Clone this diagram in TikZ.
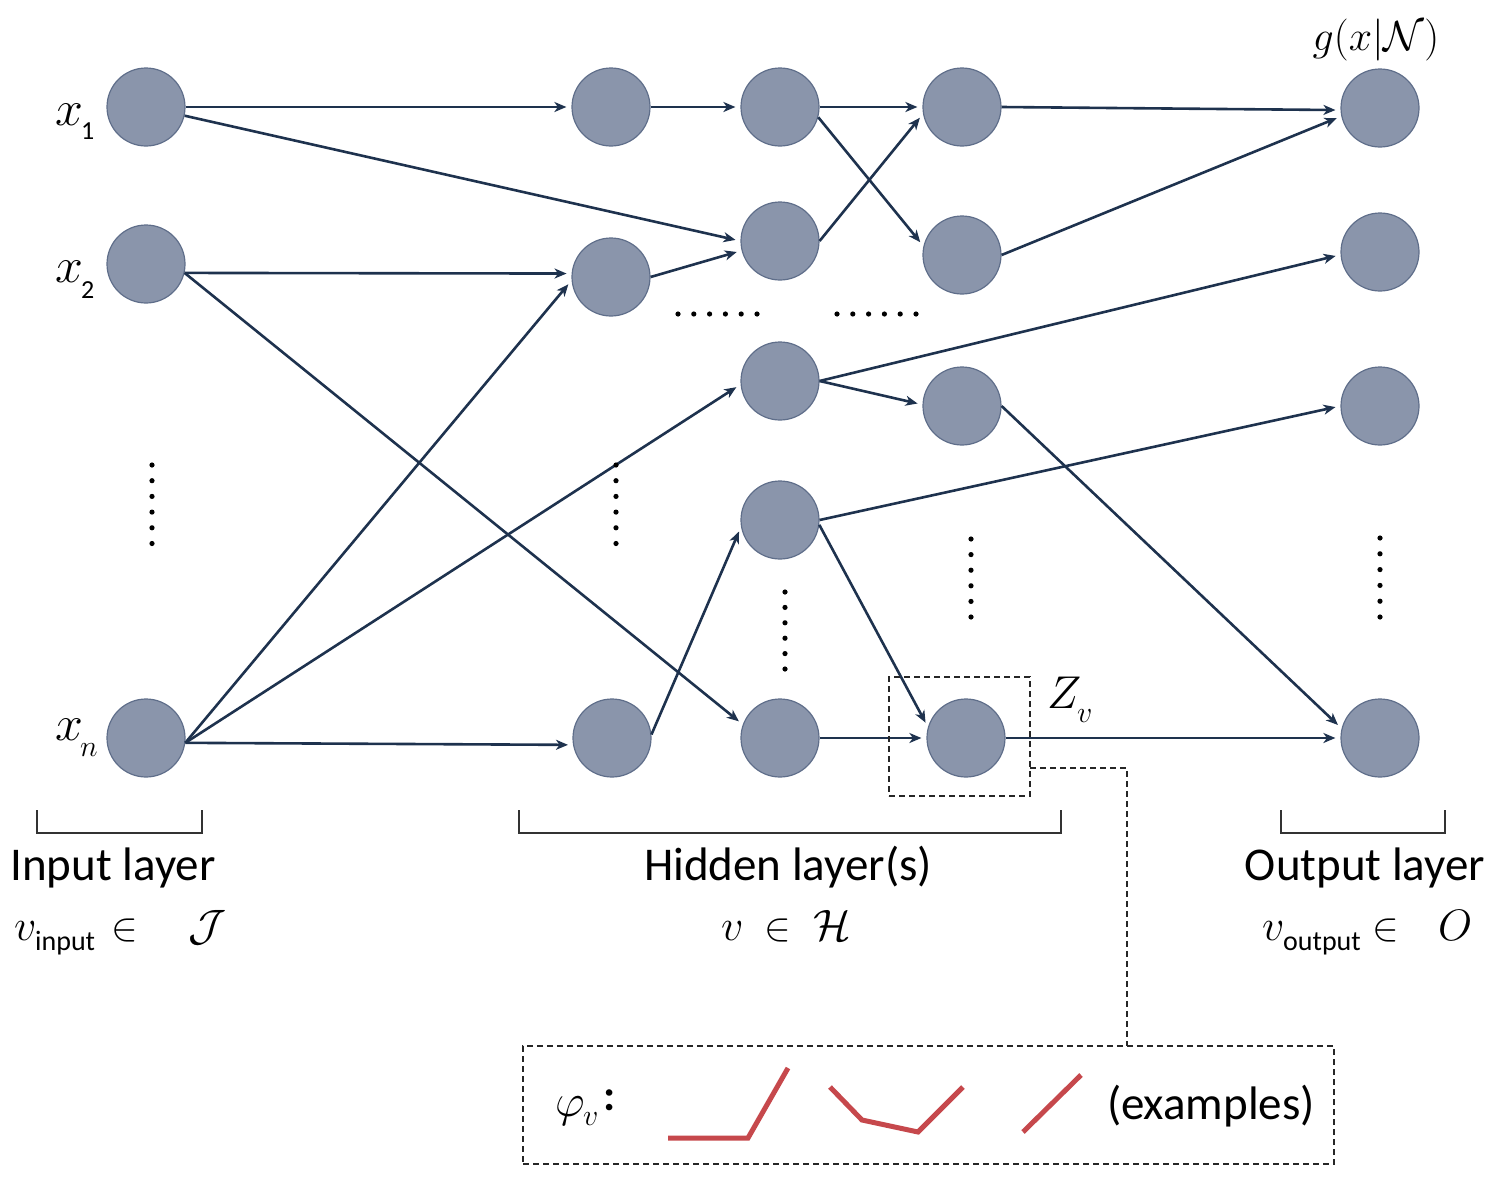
\RequirePackage{fix-cm}
\documentclass[tikz,border=0pt]{standalone}
\usepackage{amsmath}
\usepackage{fontspec}
\setmainfont{Carlito}
\usetikzlibrary{arrows.meta}
\definecolor{nfill}{RGB}{138,149,171}
\definecolor{nborder}{RGB}{95,110,138}
\definecolor{edgec}{RGB}{30,50,78}
\definecolor{actred}{RGB}{198,72,76}
\begin{document}
\begin{tikzpicture}[x=1pt,y=-1pt,
  neuron/.style={circle, fill=nfill, draw=nborder, line width=1.2pt, minimum size=78pt, inner sep=0pt},
  conn/.style={draw=edgec, line width=2.6pt, -{Stealth[length=12pt,width=10pt,inset=3.5pt]}, shorten >=5pt},
  bracket/.style={draw=black!80, line width=1.4pt},
  dbox/.style={draw=black!85, dash pattern=on 6pt off 4pt, line width=1.3pt},
  big/.style={font=\fontsize{47}{56}\selectfont, anchor=base, inner sep=0pt},
  mth/.style={font=\fontsize{44}{50}\selectfont, anchor=base west, inner sep=0pt},
  sub/.style={font=\fontsize{28}{32}\selectfont, anchor=base west, inner sep=0pt},
  act/.style={draw=actred, line width=5pt}
]
\useasboundingbox (0,0) rectangle (1500,1194);

% input layer
\node[neuron] (I1) at (146,107) {};
\node[neuron] (I2) at (146,264) {};
\node[neuron] (In) at (146,738) {};
% hidden column A
\node[neuron] (A1) at (611,107) {};
\node[neuron] (A2) at (611,277) {};
\node[neuron] (An) at (612,738) {};
% hidden column B
\node[neuron] (B1) at (780,107) {};
\node[neuron] (B2) at (780,241) {};
\node[neuron] (B3) at (780,381) {};
\node[neuron] (B4) at (780,520) {};
\node[neuron] (Bn) at (780,738) {};
% hidden column C
\node[neuron] (C1) at (962,107) {};
\node[neuron] (C2) at (962,255) {};
\node[neuron] (C3) at (962,406) {};
\node[neuron] (Cn) at (966,738) {};
% output
\node[neuron] (O1) at (1380,108) {};
\node[neuron] (O2) at (1380,252) {};
\node[neuron] (O3) at (1380,406) {};
\node[neuron] (On) at (1380,738) {};

% connectors
\draw[conn] (I1) -- (A1);
\draw[conn] (I1) -- (B2.west);
\draw[conn] (I2.-13) -- (A2.175);
\draw[conn] (I2.-13) -- (Bn.160);
\draw[conn] (In.-7) -- (A2.185);
\draw[conn] (In.-7) -- (B3.185);
\draw[conn] (In.-7) -- (An.190);
\draw[conn] (A1) -- (B1);
\draw[conn] (A2.east) -- (B2.194);
\draw[conn] (An.5) -- (B4.190);
\draw[conn] (B1) -- (C1);
\draw[conn] (B1.-15) -- (C2.167);
\draw[conn] (B2.east) -- (C1.190);
\draw[conn] (B3.east) -- (O2.184);
\draw[conn] (B3.east) -- (C3.178);
\draw[conn] (B4.east) -- (O3.west);
\draw[conn] (B4.-7) -- (Cn.164);
\draw[conn] (Bn) -- (Cn);
\draw[conn] (C1.east) -- (O1.183);
\draw[conn] (C2.east) -- (O1.192);
\draw[conn] (C3.east) -- (On.166);
\draw[conn] (Cn) -- (On);

% ellipsis dots
\foreach \k in {0,...,5} {
  \fill (152,465+15.7*\k) circle (2.6pt);
  \fill (616,465+15.7*\k) circle (2.6pt);
  \fill (785,592+15.4*\k) circle (2.6pt);
  \fill (971,539+15.6*\k) circle (2.6pt);
  \fill (1380,538+15.8*\k) circle (2.6pt);
  \fill (678+15.8*\k,314) circle (2.6pt);
  \fill (837+15.8*\k,314) circle (2.6pt);
}

% input labels
\node[mth, font=\fontsize{50}{54}\selectfont] (lx1) at (55,125) {$x$};
\node[sub, font=\fontsize{26}{28}\selectfont] (lx1s) at (81,139) {1};
\node[mth, font=\fontsize{50}{54}\selectfont] (lx2) at (55,282) {$x$};
\node[sub, font=\fontsize{26}{28}\selectfont] (lx2s) at (81,298) {2};
\node[mth, font=\fontsize{50}{54}\selectfont] (lxn) at (55,740) {$x$};
\node[sub, font=\fontsize{30}{32}\selectfont] (lxns) at (80,756) {$n$};

% output label
\node[anchor=base, inner sep=0pt, font=\fontsize{42}{48}\selectfont] (gl) at (1376,50) {$g(x|\mathcal{N})$};

% Z_v
\node[mth, font=\fontsize{46}{50}\selectfont] (zl) at (1047,708) {$Z$};
\node[sub, font=\fontsize{30}{32}\selectfont] (zls) at (1077,722) {$v$};

% dashed box and link
\node[dbox, minimum width=141pt, minimum height=119pt, inner sep=0pt] (zbox) at (959.5,736.5) {};
\node[dbox, minimum width=811pt, minimum height=118pt, inner sep=0pt] (ex) at (928.5,1105) {};
\coordinate (zb) at (1030,768);
\coordinate (et) at (1127,1046);
\draw[dbox] (zb) -| (et);

% brackets
\draw[bracket] (37,810) -- (37,833) -- (202,833) -- (202,810);
\draw[bracket] (519,810) -- (519,833) -- (1061,833) -- (1061,810);
\draw[bracket] (1281,810) -- (1281,833) -- (1445,833) -- (1445,810);

% layer titles
\node[big] (tin) at (113,880) {Input layer};
\node[big] (thid) at (788,880) {Hidden layer(s)};
\node[big] (tout) at (1365,880) {Output layer};

% set membership
\node[mth] (vin) at (14,940) {$v$};
\node[sub] (vins) at (35,950) {input};
\node[mth, font=\fontsize{40}{46}\selectfont] (ein) at (111,940) {$\in$};
\node[mth] (jin) at (188,940) {$\mathcal{J}$};

\node[mth] (vh) at (721,940) {$v$};
\node[mth, font=\fontsize{40}{46}\selectfont] (eh) at (764,940) {$\in$};
\node[mth] (hh) at (813,940) {$\mathcal{H}$};

\node[mth] (vo) at (1262,940) {$v$};
\node[sub] (vos) at (1283,950) {output};
\node[mth, font=\fontsize{40}{46}\selectfont] (eo) at (1372,940) {$\in$};
\node[mth] (oo) at (1438,940) {$O$};

% activation examples
\node[mth, font=\fontsize{46}{50}\selectfont] (phi) at (555,1116) {$\varphi$};
\node[sub, font=\fontsize{30}{32}\selectfont] (phis) at (583,1125) {$v$};
\node[mth, font=\fontsize{44}{50}\selectfont] (colon) at (603,1110) {\textbf{:}};
\draw[act] (668,1138) -- (748,1138) -- (788,1068);
\draw[act] (830,1087) -- (862,1120) -- (918,1132) -- (963,1087);
\draw[act] (1023,1132) -- (1081,1075);
\node[big] (exl) at (1211,1119) {(examples)};
\end{tikzpicture}
\end{document}
